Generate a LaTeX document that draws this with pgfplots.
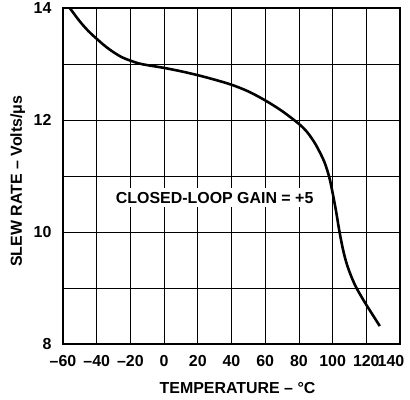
\documentclass[border=0pt]{standalone}
\usepackage{pgfplots}
\pgfplotsset{compat=1.18}
\usepackage{fontspec}
\setmainfont{Liberation Sans}
\newcommand{\lbl}{\bfseries\fontsize{16}{19}\selectfont}

\begin{document}
\begin{tikzpicture}
	\begin{axis}[
			name=ax,
			scale only axis,
			width=337bp,
			height=336bp,
			xmin=-60, xmax=140,
			ymin=8, ymax=14,
			xtick={-60,-40,...,140},
			xticklabels={--60,--40,--20,0,20,40,60,80,100,120,\hspace*{-18bp}140},
			ytick={8,9,...,14},
			yticklabels={8,,10,,12,,14},
			major tick length=0pt,
			grid=major,
			grid style={black, line width=0.8pt},
			axis line style={black, line width=1.7pt},
			ticklabel style={font=\lbl},
			xticklabel style={yshift=-8bp},
			yticklabel style={xshift=-8bp},
			xlabel={TEMPERATURE -- °C},
			ylabel={SLEW RATE -- Volts/μs},
			label style={font=\lbl},
			xlabel style={at={(axis description cs:0.518,0)}, anchor=center, yshift=-44bp},
			ylabel style={at={(axis description cs:-0.134,0.485)}, anchor=center},
			clip=false,
		]

		\addplot[black, line width=2.6pt, smooth] coordinates {
			(-56,14.0)(-50,13.76)(-45,13.59)(-40,13.45)(-35,13.32)(-30,13.21)
			(-25,13.12)(-20,13.06)(-15,13.01)(-10,12.98)(0,12.93)(10,12.87)
			(20,12.80)(30,12.72)(40,12.63)(50,12.51)(60,12.35)(70,12.16)
			(80,11.93)(85,11.78)(90,11.56)(95,11.26)(98,10.98)(100,10.70)
			(102,10.38)(104,10.02)(106,9.71)(108,9.47)(110,9.29)(112,9.14)
			(114,9.01)(117,8.85)(120,8.70)(124,8.51)(128,8.32)
		};

		\node[fill=white, inner xsep=6.5bp, inner ysep=4bp, font=\lbl]
			at (axis cs:30,10.61) {CLOSED-LOOP GAIN = +5};
	\end{axis}
	\pgfresetboundingbox
	\path[use as bounding box] ([xshift=-63bp,yshift=-56bp]ax.south west)
		rectangle ([xshift=10bp,yshift=8bp]ax.north east);
\end{tikzpicture}
\end{document}
